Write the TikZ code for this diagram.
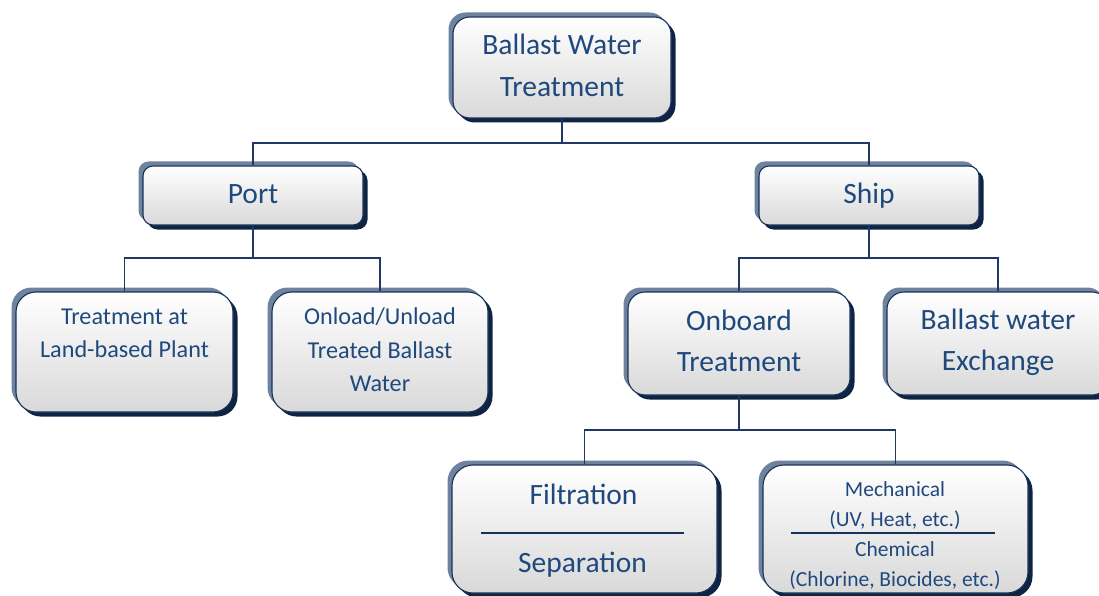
\documentclass[tikz,border=0pt]{standalone}
\usepackage{fontspec}
\setmainfont{Carlito}
\usetikzlibrary{shadows,calc}
\definecolor{txt}{HTML}{1F497D}
\definecolor{bord}{HTML}{17325A}
\definecolor{shl}{HTML}{6F829E}
\definecolor{shd}{HTML}{0F2442}
\definecolor{conncol}{HTML}{1F3864}
\begin{document}
\begin{tikzpicture}[x=1pt,y=-1pt,
 box/.style={draw=bord, line width=1.1pt, rounded corners=#1, top color=white, bottom color=black!15,
   inner sep=0pt,
   general shadow={fill=shl, shadow xshift=-4.5pt, shadow yshift=4.5pt},
   general shadow={fill=shd, shadow xshift=4.5pt, shadow yshift=-4.5pt}},
 big/.style={font=\fontsize{29.5}{42}\selectfont},
 mid/.style={font=\fontsize{24.2}{33.5}\selectfont},
 sm/.style={font=\fontsize{21.5}{29}\selectfont},
 txtc/.style={text=txt, align=center, inner sep=0pt},
 lbl/.style={text=txt, anchor=base, inner sep=0pt},
 conn/.style={draw=conncol, line width=1.6pt},
 sep/.style={draw=bord, line width=1.3pt}]
\useasboundingbox (0,0) rectangle (1099,596);
\clip (0,0) rectangle (1099,596);

\node[box=17pt, minimum width=218pt, minimum height=101pt] (root) at (562,67.5) {};
\node[box=10pt, minimum width=220pt, minimum height=59pt] (port) at (253,195.5) {};
\node[box=10pt, minimum width=220pt, minimum height=59pt] (ship) at (869,195.5) {};
\node[box=20pt, minimum width=217pt, minimum height=120pt] (land) at (124.5,352) {};
\node[box=20pt, minimum width=216pt, minimum height=120pt] (onload) at (380,352) {};
\node[box=17pt, minimum width=222pt, minimum height=103pt] (onboard) at (739,343.5) {};
\node[box=17pt, minimum width=222pt, minimum height=103pt] (exch) at (998,343.5) {};
\node[box=21pt, minimum width=265pt, minimum height=128pt] (filt) at (584.5,529) {};
\node[box=21pt, minimum width=265pt, minimum height=128pt] (mech) at (895.5,529) {};

\node[txtc, big] (rootT) at (562,65.5) {Ballast Water\\Treatment};
\node[lbl, big] (portT) at (253,204) {Port};
\node[lbl, big] (shipT) at (869,204) {Ship};
\node[txtc, mid] (landT) at (124.5,350) {Treatment at\\Land-based Plant\\\mbox{}};
\node[txtc, mid] (onloadT) at (380,350) {Onload/Unload\\Treated Ballast\\Water};
\node[txtc, big, font=\fontsize{29.5}{41}\selectfont] (onboardT) at (739,340.5) {Onboard\\Treatment};
\node[txtc, big, font=\fontsize{29.5}{41}\selectfont] (exchT) at (998,342.5) {Ballast water\\Exchange};

\node[lbl, big] (filtA) at (583.5,504) {Filtration};
\node[lbl, big] (filtB) at (582.5,572) {Separation};
\draw[sep] (481,533) -- (684,533);

\node[lbl, sm] (mechA) at (895,496) {Mechanical};
\node[lbl, sm] (mechB) at (895,526) {(UV, Heat, etc.)};
\draw[sep] (791,533) -- (995,533);
\node[lbl, sm] (mechC) at (895,556) {Chemical};
\node[lbl, sm] (mechD) at (895,586) {(Chlorine, Biocides, etc.)};

\coordinate (r1) at (562,143);
\coordinate (p1) at (253,258);
\coordinate (s1) at (869,258);
\coordinate (o1) at (739,430);
\draw[conn] (root.south) -- (r1);
\draw[conn] (port.north) |- (r1);
\draw[conn] (ship.north) |- (r1);
\draw[conn] (port.south) -- (p1);
\draw[conn] (land.north) |- (p1);
\draw[conn] (onload.north) |- (p1);
\draw[conn] (ship.south) -- (s1);
\draw[conn] (onboard.north) |- (s1);
\draw[conn] (exch.north) |- (s1);
\draw[conn] (onboard.south) -- (o1);
\draw[conn] (filt.north) |- (o1);
\draw[conn] (mech.north) |- (o1);
\end{tikzpicture}
\end{document}
